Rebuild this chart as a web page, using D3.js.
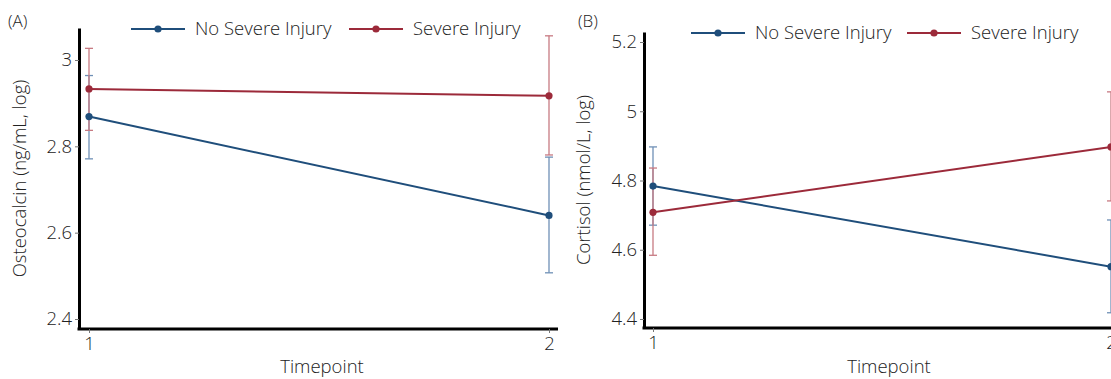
<!DOCTYPE html>
<html>
<head>
<meta charset="utf-8">
<script src="https://cdn.jsdelivr.net/npm/d3@7"></script>
<style>
  body { margin: 0; background: #fff; }
  svg text { font-family: "Open Sans", "Noto Sans", sans-serif; font-weight: 300; fill: #222; }
</style>
</head>
<body>
<div id="container"></div>
<script>
// Timepoints and groups
var timepoints = [1, 2];
var groups = ["No Severe Injury", "Severe Injury"];

// Panel A: osteocalcin (log), mean and CI per timepoint
var osteoNoSevere   = [2.869, 2.640];
var osteoNoSevereLo = [2.771, 2.507];
var osteoNoSevereHi = [2.964, 2.775];
var osteoSevere     = [2.933, 2.917];
var osteoSevereLo   = [2.837, 2.780];
var osteoSevereHi   = [3.027, 3.056];
var osteoTicks      = [2.4, 2.6, 2.8, 3];

// Panel B: cortisol (log)
var cortNoSevere   = [4.784, 4.551];
var cortNoSevereLo = [4.671, 4.418];
var cortNoSevereHi = [4.897, 4.686];
var cortSevere     = [4.708, 4.897];
var cortSevereLo   = [4.584, 4.741];
var cortSevereHi   = [4.836, 5.056];
var cortTicks      = [4.4, 4.6, 4.8, 5, 5.2];

var lineColors = ["#1f4e7b", "#9c2a3a"];
var barColors  = ["#6f90b6", "#c77a82"];

var width = 1111, height = 379;
var fontSize = "18.5px";

var svg = d3.select("#container")
            .append("svg")
              .attr("width", width)
              .attr("height", height);

function series(mean, lo, hi) {
  return timepoints.map(function(t, i) {
    return {t: t, m: mean[i], lo: lo[i], hi: hi[i]};
  });
}

function drawPanel(p) {
  var x = d3.scaleLinear().domain(p.xDomain).range([p.left, p.right]);
  var y = d3.scaleLinear().domain(p.yDomain).range([p.bottom, p.top]);

  var g = svg.append("g");

  // Panel letter
  g.append("text")
    .attr("x", p.letterX)
    .attr("y", 27)
    .style("font-size", "17px")
    .text(p.letter);

  // Error bars for each group
  p.data.forEach(function(d, gi) {
    var eb = g.append("g");
    eb.selectAll("line.v")
      .data(d)
      .enter()
      .append("line")
        .attr("x1", function(v) { return x(v.t); })
        .attr("x2", function(v) { return x(v.t); })
        .attr("y1", function(v) { return y(v.lo); })
        .attr("y2", function(v) { return y(v.hi); })
        .attr("stroke", barColors[gi])
        .attr("stroke-width", 1.3);
    ["lo", "hi"].forEach(function(k) {
      eb.selectAll("line.c" + k)
        .data(d)
        .enter()
        .append("line")
          .attr("x1", function(v) { return x(v.t) - 4; })
          .attr("x2", function(v) { return x(v.t) + 4; })
          .attr("y1", function(v) { return y(v[k]); })
          .attr("y2", function(v) { return y(v[k]); })
          .attr("stroke", barColors[gi])
          .attr("stroke-width", 1.3);
    });
  });

  // Lines and points
  p.data.forEach(function(d, gi) {
    g.append("path")
      .datum(d)
      .attr("fill", "none")
      .attr("stroke", lineColors[gi])
      .attr("stroke-width", 2)
      .attr("d", d3.line()
                  .x(function(v) { return x(v.t); })
                  .y(function(v) { return y(v.m); }));

    g.selectAll("circle.g" + gi)
      .data(d)
      .enter()
      .append("circle")
        .attr("cx", function(v) { return x(v.t); })
        .attr("cy", function(v) { return y(v.m); })
        .attr("r", 3.6)
        .attr("fill", lineColors[gi]);
  });

  // Axes
  var yAxis = g.append("g")
    .attr("transform", "translate(" + p.left + ",0)")
    .call(d3.axisLeft(y)
            .tickValues(p.ticks)
            .tickFormat(d3.format("~g"))
            .tickSize(4)
            .tickSizeOuter(0)
            .tickPadding(3));

  var xAxis = g.append("g")
    .attr("transform", "translate(0," + p.bottom + ")")
    .call(d3.axisBottom(x)
            .tickValues(timepoints)
            .tickFormat(d3.format("d"))
            .tickSize(4)
            .tickSizeOuter(0)
            .tickPadding(4));

  [yAxis, xAxis].forEach(function(a) {
    a.select(".domain").attr("stroke", "#000").attr("stroke-width", 3);
    a.selectAll(".tick line").attr("stroke", "#777");
    a.selectAll(".tick text").style("font-size", fontSize).attr("fill", "#222");
  });
  // make the corner meet cleanly
  xAxis.select(".domain").attr("d", "M" + (p.left - 1.5) + ",0H" + p.right);

  // Axis titles
  g.append("text")
    .attr("x", p.xTitleX)
    .attr("y", 373)
    .attr("text-anchor", "middle")
    .style("font-size", fontSize)
    .text("Timepoint");

  g.append("text")
    .attr("transform", "translate(" + p.yTitleX + "," + ((p.top + p.bottom) / 2) + ") rotate(-90)")
    .attr("text-anchor", "middle")
    .style("font-size", fontSize)
    .text(p.yTitle);

  // Legend
  var lg = g.append("g");
  p.legend.forEach(function(l, gi) {
    lg.append("line")
      .attr("x1", l.x).attr("x2", l.x + 54)
      .attr("y1", p.legendY).attr("y2", p.legendY)
      .attr("stroke", lineColors[gi])
      .attr("stroke-width", 2);
    lg.append("circle")
      .attr("cx", l.x + 27).attr("cy", p.legendY)
      .attr("r", 3.6)
      .attr("fill", lineColors[gi]);
    lg.append("text")
      .attr("x", l.x + 64)
      .attr("y", p.legendY)
      .attr("dy", "0.35em")
      .style("font-size", fontSize)
      .text(groups[gi]);
  });
}

drawPanel({
  letter: "(A)", letterX: 8,
  left: 79, right: 558, top: 28, bottom: 329,
  xDomain: [1 - 10 / 460, 2 + 9 / 460],
  yDomain: [2.4 - 10 / 431.7, 3 + 32 / 431.7],
  ticks: osteoTicks,
  data: [series(osteoNoSevere, osteoNoSevereLo, osteoNoSevereHi),
         series(osteoSevere, osteoSevereLo, osteoSevereHi)],
  yTitle: "Osteocalcin (ng/mL, log)", yTitleX: 26,
  xTitleX: 322,
  legendY: 29,
  legend: [{x: 131}, {x: 349}]
});

drawPanel({
  letter: "(B)", letterX: 578,
  left: 644, right: 1125, top: 32, bottom: 328,
  xDomain: [1 - 9 / 458, 2 + 14 / 458],
  yDomain: [4.4 - 9 / 346, 5.2 + 10 / 346],
  ticks: cortTicks,
  data: [series(cortNoSevere, cortNoSevereLo, cortNoSevereHi),
         series(cortSevere, cortSevereLo, cortSevereHi)],
  yTitle: "Cortisol (nmol/L, log)", yTitleX: 590,
  xTitleX: 889,
  legendY: 33,
  legend: [{x: 691}, {x: 907}]
});
</script>
</body>
</html>
